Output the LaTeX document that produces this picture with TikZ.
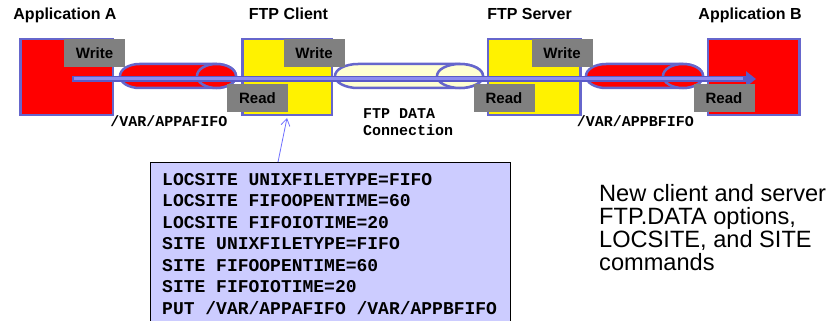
\documentclass[tikz,border=0pt]{standalone}
\usepackage{fontspec}
\setmainfont{Liberation Sans}
\setmonofont{Liberation Mono}
\usetikzlibrary{arrows.meta}
\definecolor{rim}{HTML}{6666CC}
\definecolor{tag}{HTML}{808080}
\definecolor{flowdark}{HTML}{5A5AC8}
\definecolor{flowlight}{HTML}{8C8CF0}
\definecolor{cream}{HTML}{FFFFD2}
\definecolor{cmdfill}{HTML}{CCCCFF}
\definecolor{pointer}{HTML}{6F6FFF}
\tikzset{
  unitbox/.style={draw=rim, line width=2.5pt, inner sep=0pt, outer sep=0pt, minimum height=76pt},
  tagbox/.style={fill=tag, inner sep=0pt, minimum width=61pt, minimum height=28pt,
    font=\fontsize{15}{18}\selectfont\bfseries},
  title/.style={anchor=base, font=\fontsize{16}{19}\selectfont\bfseries},
  pipe/.style={draw=rim, line width=2.5pt},
  fifo/.style={anchor=base, font=\fontsize{15}{18}\selectfont\ttfamily\bfseries},
  cmdline/.style={anchor=base west, inner sep=0pt, font=\fontsize{18}{21}\selectfont\ttfamily\bfseries},
}
% horizontal pipe: left end x, right ellipse centre x, x radius, fill
\newcommand{\fifopipe}[4]{%
  \filldraw[pipe, fill=#4] (#1,64) arc[start angle=90, end angle=270, x radius=#3pt, y radius=12pt]
    -- (#2,88) arc[start angle=-90, end angle=90, x radius=#3pt, y radius=12pt] -- cycle;
  \filldraw[pipe, fill=#4] (#2,76) ellipse [x radius=#3pt, y radius=12pt];}
\begin{document}
\begin{tikzpicture}[x=1pt, y=-1pt]
\useasboundingbox (0,0) rectangle (831,321);

% titles
\node[title] (tA) at (65,20) {Application A};
\node[title] (tC) at (288.5,20) {FTP Client};
\node[title] (tS) at (529.5,20) {FTP Server};
\node[title] (tB) at (750,20) {Application B};

% the four endpoints
\node[unitbox, fill=red, minimum width=92.5pt] (appA) at (66.75,77) {};
\node[unitbox, fill=yellow, minimum width=89.5pt] (client) at (287,77) {};
\node[unitbox, fill=yellow, minimum width=92.5pt] (server) at (534,77) {};
\node[unitbox, fill=red, minimum width=91.5pt] (appB) at (753.5,77) {};

% pipes between them
\fifopipe{139.5}{216.5}{19.5}{red}
\fifopipe{358}{460}{23}{cream}
\fifopipe{606}{683}{20}{red}

% data flow from application A to application B
\coordinate (flowS) at (72,79);
\coordinate (flowE) at (756,79);
\coordinate (flowM) at (743,79);
\draw[flowdark, line width=6.5pt, -{Triangle[length=10pt, width=15pt]}] (flowS) -- (flowE);
\draw[flowlight, line width=3pt] ([xshift=1.5pt]flowS) -- (flowM);

% read / write tags
\node[tagbox] (wA) at (94.5,53) {Write};
\node[tagbox] (wC) at (314,53) {Write};
\node[tagbox] (rC) at (257.5,98) {Read};
\node[tagbox] (wS) at (562,53) {Write};
\node[tagbox] (rS) at (504,98) {Read};
\node[tagbox] (rB) at (724,98.5) {Read};

% pipe labels
\node[fifo] (fA) at (169,127) {/VAR/APPAFIFO};
\node[fifo] (fB) at (635.5,127) {/VAR/APPBFIFO};
\node[fifo, anchor=base west, inner sep=0pt] (dc1) at (363,118) {FTP DATA};
\node[fifo, anchor=base west, inner sep=0pt] (dc2) at (363,135.5) {Connection};

% command box
\node[draw=black, line width=1pt, fill=cmdfill, inner sep=0pt, minimum width=360pt,
  minimum height=163pt, anchor=north west] (cmds) at (150,162) {};
\node[cmdline] (c1) at (162,185) {LOCSITE UNIXFILETYPE=FIFO};
\node[cmdline] (c2) at (162,206.5) {LOCSITE FIFOOPENTIME=60};
\node[cmdline] (c3) at (162,228) {LOCSITE FIFOIOTIME=20};
\node[cmdline] (c4) at (162,249.5) {SITE UNIXFILETYPE=FIFO};
\node[cmdline] (c5) at (162,271) {SITE FIFOOPENTIME=60};
\node[cmdline] (c6) at (162,292.5) {SITE FIFOIOTIME=20};
\node[cmdline] (c7) at (162,314) {PUT /VAR/APPAFIFO /VAR/APPBFIFO};

% pointer from the commands to the client
\coordinate (pFrom) at (278,162);
\coordinate (pTo) at (287,118);
\draw[pointer, line width=0.8pt, -{Straight Barb[length=7pt, width=9pt]}] (pFrom) -- (pTo);

% note (base anchor sits on the last line)
\node[anchor=base west, inner sep=0pt, align=left, font=\fontsize{23.6}{23}\selectfont] (note) at (599,270)
  {New client and server\\FTP.DATA options,\\LOCSITE, and SITE\\commands};
\end{tikzpicture}
\end{document}
